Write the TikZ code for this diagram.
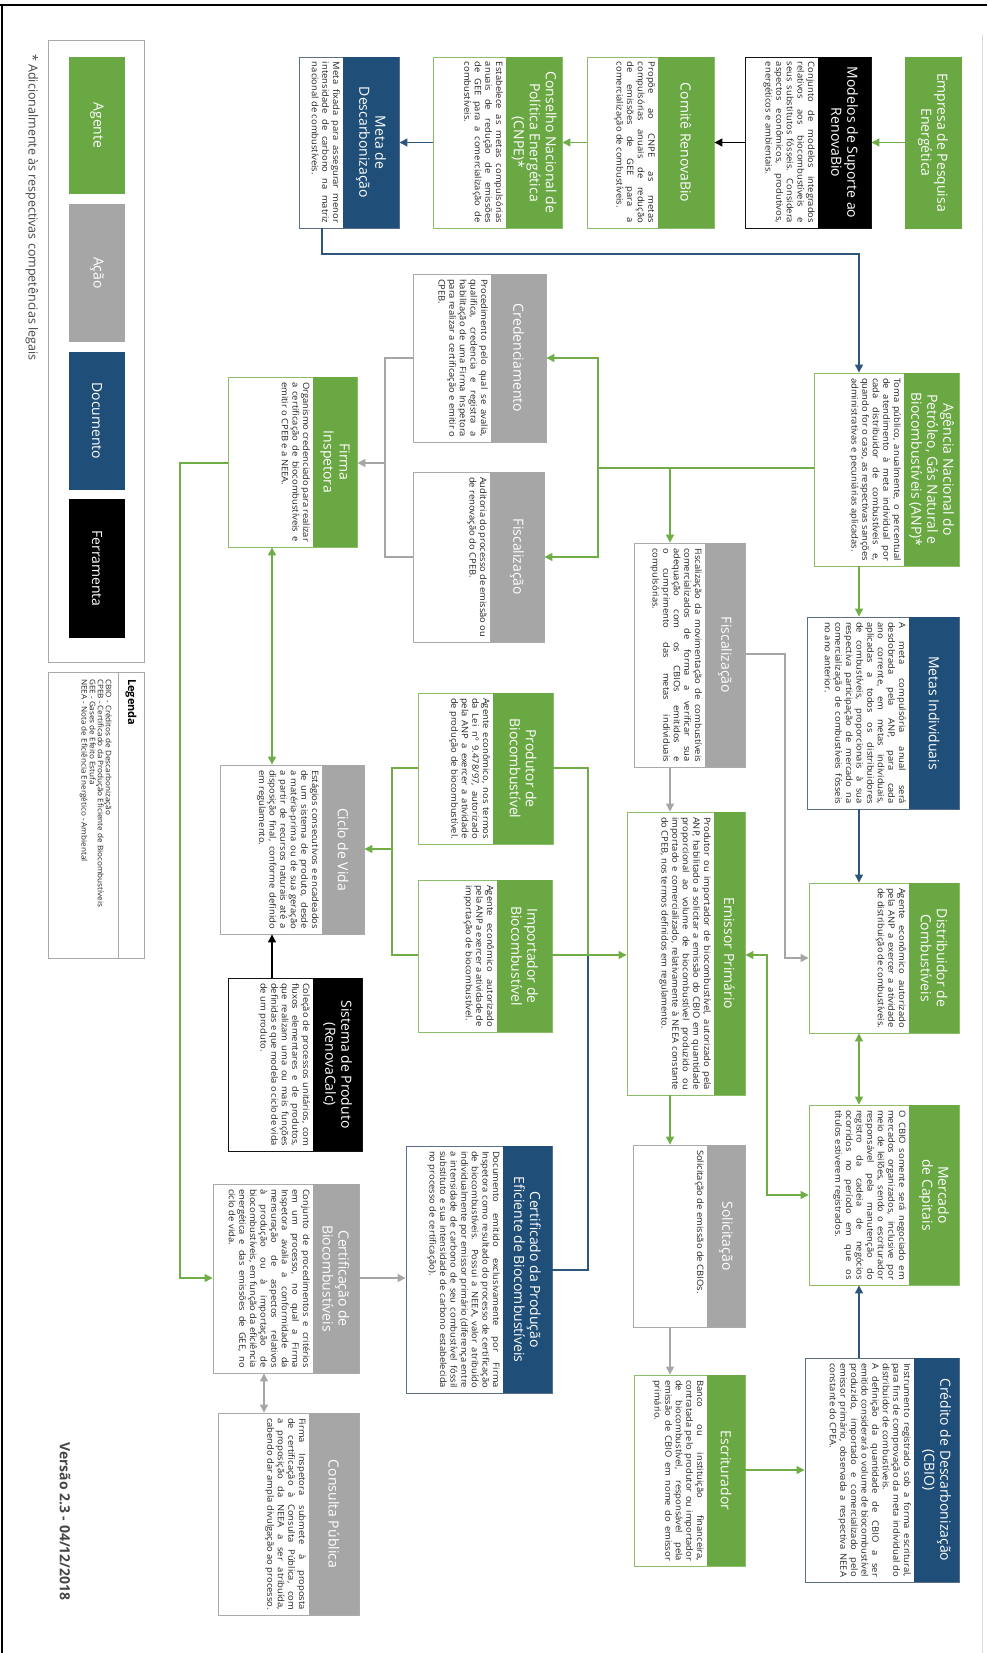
\documentclass[tikz,border=0pt]{standalone}
\usepackage{fontspec}
\setmainfont{Open Sans}
\newfontfamily\bodyfam{Open Sans}[FakeStretch=1.07]
\usetikzlibrary{arrows.meta}
\hyphenpenalty=10000
\exhyphenpenalty=10000
\tolerance=9999
\definecolor{hdG}{RGB}{106,168,67}
\definecolor{bdG}{RGB}{140,190,105}
\definecolor{hdB}{RGB}{31,78,121}
\definecolor{bdB}{RGB}{90,110,135}
\definecolor{hdY}{RGB}{166,166,166}
\definecolor{bdY}{RGB}{170,170,170}
\definecolor{hdK}{RGB}{0,0,0}
\definecolor{bdK}{RGB}{20,20,20}
\definecolor{lnG}{RGB}{112,173,71}
\definecolor{lnB}{RGB}{45,85,125}
\definecolor{lnY}{RGB}{166,166,166}
\definecolor{txtc}{RGB}{35,35,35}
\definecolor{notec}{RGB}{70,70,70}
\tikzset{
  frame/.style={draw, inner sep=0pt, line width=0.9pt},
  hdr/.style={rotate=-90, inner sep=0pt, text=white, align=center,
    font=\fontsize{14}{16}\selectfont},
  bodytxt/.style={rotate=-90, inner sep=0pt, align=justify, text=txtc,
    font=\bodyfam\fontsize{8.8}{10.6}\selectfont},
  con/.style={line width=1.3pt},
  cG/.style={con, draw=lnG},
  cB/.style={con, draw=lnB},
  cY/.style={con, draw=lnY},
  cK/.style={con, draw=black},
  legblock/.style={inner sep=0pt, minimum width=56pt},
  legtxt/.style={rotate=-90, inner sep=0pt, text=white, font=\fontsize{14}{16}\selectfont},
}
\newcommand\mkbox[9]{%
  \pgfmathsetmacro\bxW{#3-#2}\pgfmathsetmacro\bxH{#6-#5}%
  \pgfmathsetmacro\hdW{#3-#4}\pgfmathsetmacro\txW{#6-#5-10}%
  \pgfmathsetmacro\bxCX{(#2+#3)/2}\pgfmathsetmacro\bxCY{(#5+#6)/2}%
  \pgfmathsetmacro\hdX{(#3+#4)/2}\pgfmathsetmacro\txX{#4-3}%
  \node[frame, draw=bd#7, minimum width=\bxW pt, minimum height=\bxH pt] (#1) at (\bxCX,\bxCY) {};
  \node[hdr, fill=hd#7, minimum width=\bxH pt, minimum height=\hdW pt] (#1h) at (\hdX,\bxCY) {#8};
  \node[bodytxt, text width=\txW pt, anchor=north] (#1t) at (\txX,\bxCY) {#9};
}
\begin{document}
\begin{tikzpicture}[x=1pt,y=-1pt,>={Triangle[length=8pt,width=8pt]}]
\useasboundingbox (0,0) rectangle (987,1653);
\fill[white] (0,0) rectangle (987,1653);
% page frame
\draw[line width=2.2pt] (0,5) -- (987,5);
\draw[line width=2.2pt] (2,5) -- (2,1653);
\draw[black!15, line width=0.8pt] (982,35) -- (982,1653);

% top row
\node[frame, draw=hdG, fill=hdG, minimum width=56pt, minimum height=171pt] (empresa) at (933,142.5) {};
\node[hdr] (empresat) at (empresa.center) {Empresa de Pesquisa\\Energética};
\mkbox{modelos}{745}{871}{818}{57}{228}{K}{Modelos de Suporte ao\\RenovaBio}{Conjunto de modelos integrados relativos aos biocombustíveis e seus substitutos fósseis. Considera aspectos econômicos, produtivos, energéticos e ambientais.}
\mkbox{comite}{587}{714}{658}{57}{228}{G}{Comitê RenovaBio}{Propõe ao CNPE as metas compulsórias anuais de redução de emissões de GEE para a comercialização de combustíveis.}
\mkbox{cnpe}{433}{562}{506}{57}{228}{G}{Conselho Nacional de\\Política Energética\\(CNPE)*}{Estabelece as metas compulsórias anuais de redução de emissões de GEE para a comercialização de combustíveis.}
\mkbox{meta}{299}{399}{343}{57}{228}{B}{Meta de\\Descarbonização}{Meta fixada para assegurar menor intensidade de carbono na matriz nacional de combustíveis.}

% right column
\mkbox{anp}{814}{959}{904}{373}{566}{G}{Agência Nacional do\\Petróleo, Gás Natural e\\Biocombustíveis (ANP)*}{Toma público, anualmente, o percentual de atendimento à meta individual por cada distribuidor de combustíveis e, quando for o caso, as respectivas sanções administrativas e pecuniárias aplicadas.}
\mkbox{metas}{807}{959}{909}{617}{809}{B}{Metas Individuais}{A meta compulsória anual será desdobrada pela ANP, para cada ano corrente, em metas individuais, aplicadas a todos os distribuidores de combustíveis, proporcionais à sua respectiva participação de mercado na comercialização de combustíveis fósseis no ano anterior.}
\mkbox{distrib}{809}{959}{909}{883}{1033}{G}{Distribuidor de\\Combustíveis}{Agente econômico autorizado pela ANP a exercer a atividade de distribuição de combustíveis.}
\mkbox{mercado}{809}{959}{909}{1105}{1285}{G}{Mercado\\de Capitais}{O CBIO somente será negociado em mercados organizados, inclusive por meio de leilões, sendo o escriturador responsável pela manutenção do registro da cadeia de negócios ocorridos no período em que os títulos estiverem registrados.}
\mkbox{cbio}{805}{959}{914}{1358}{1582}{B}{Crédito de Descarbonização\\(CBIO)}{Instrumento registrado sob a forma escritural, para fins de comprovação da meta individual do distribuidor de combustíveis.\\A definição da quantidade de CBIO a ser emitido considerará o volume de biocombustível produzido, importado e comercializado pelo emissor primário, observada a respectiva NEEA constante do CPEA.}

% second column
\mkbox{fiscA}{634}{745}{705}{543}{767}{Y}{Fiscalização}{Fiscalização da movimentação de combustíveis comercializados de forma a verificar sua adequação com os CBIOs emitidos e o cumprimento das metas individuais compulsórias.}
\mkbox{emissor}{627}{745}{714}{812}{1095}{G}{Emissor Primário}{Produtor ou importador de biocombustível, autorizado pela ANP, habilitado a solicitar a emissão do CBIO em quantidade proporcional ao volume de biocombustível produzido ou importado e comercializado, relativamente à NEEA constante do CPEB, nos termos definidos em regulamento.}
\mkbox{solic}{633}{745}{707}{1145}{1327}{Y}{Solicitação}{Solicitação de emissão de CBIOs.}
\mkbox{escrit}{634}{745}{707}{1375}{1566}{G}{Escriturador}{Banco ou instituição financeira, contratada pelo produtor ou importador de biocombustível, responsável pela emissão de CBIO em nome do emissor primário.}

% third column
\mkbox{cred}{413}{546}{491}{274}{442}{Y}{Credenciamento}{Procedimento pelo qual se avalia, qualifica, credencia e registra a habilitação de uma Firma Inspetora para realizar a certificação e emitir o CPEB.}
\mkbox{fiscB}{413}{544}{490}{472}{642}{Y}{Fiscalização}{Auditoria do processo de emissão ou de renovação do CPEB.}
\mkbox{produtor}{418}{553}{493}{693}{844}{G}{Produtor de\\Biocombustível}{Agente econômico, nos termos da Lei nº 9.478/97, autorizado pela ANP a exercer a atividade de produção de biocombustível.}
\mkbox{importador}{418}{552}{497}{880}{1032}{G}{Importador de\\Biocombustível}{Agente econômico autorizado pela ANP a exercer a atividade de importação de biocombustível.}
\mkbox{cpeb}{406}{552}{503}{1146}{1393}{B}{Certificado da Produção\\Eficiente de Biocombustíveis}{Documento emitido exclusivamente por Firma Inspetora como resultado do processo de certificação de biocombustíveis. Possui a NEEA, valor atribuído individualmente por emissor primário (diferença entre a intensidade de carbono de seu combustível fóssil substituto e sua intensidade de carbono estabelecida no processo de certificação).}

% fourth column
\mkbox{firma}{228}{357}{313}{377}{547}{G}{Firma\\Inspetora}{Organismo credenciado para realizar a certificação de biocombustíveis e emitir o CPEB e a NEEA.}
\mkbox{ciclo}{220}{364}{322}{765}{934}{Y}{Ciclo de Vida}{Estágios consecutivos e encadeados de um sistema de produto, desde a matéria-prima ou de sua geração a partir de recursos naturais até a disposição final, conforme definido em regulamento.}
\mkbox{sistema}{228}{362}{313}{978}{1151}{K}{Sistema de Produto\\(RenovaCalc)}{Coleção de processos unitários, com fluxos elementares e de produtos, que realizam uma ou mais funções definidas e que modela o ciclo de vida de um produto.}
\mkbox{certif}{213}{359}{313}{1184}{1373}{Y}{Certificação de\\Biocombustíveis}{Conjunto de procedimentos e critérios em um processo, no qual a Firma Inspetora avalia a conformidade da mensuração de aspectos relativos à produção ou à importação de biocombustíveis, em função da eficiência energética e das emissões de GEE, no ciclo de vida.}
\mkbox{consulta}{218}{359}{309}{1413}{1615}{Y}{Consulta Pública}{Firma Inspetora submete à proposta de certificação à Consulta Pública, com a proposição da NEEA a ser atribuída, cabendo dar ampla divulgação ao processo.}

% connectors
\draw[cG,->] (empresa.west) -- (modelos.east);
\draw[cK,->] (modelos.west) -- (comite.east);
\draw[cG,->] (comite.west) -- (cnpe.east);
\draw[cB,->] (cnpe.west) -- (meta.east);
\draw[cB,->] (meta.south -| 322,0) -- (322,254) -- (859,254) -- (anp.north -| 859,0);
\draw[cG] (anp.west |- 0,468) -- (598,468);
\draw[cG,->] (670,468) -- (fiscA.north -| 670,0);
\draw[cG,->] (598,468) -- (598,358) -- (cred.east |- 0,358);
\draw[cG,->] (598,468) -- (598,557) -- (fiscB.east |- 0,557);
\draw[cG,->] (anp.south -| 859,0) -- (metas.north -| 859,0);
\draw[cB,->] (metas.south -| 859,0) -- (distrib.north -| 859,0);
\draw[cY,->] (fiscA.east |- 0,654) -- (785,654) -- (785,958) -- (distrib.west |- 0,958);
\draw[cY,->] (fiscA.south -| 670,0) -- (emissor.north -| 670,0);
\draw[cG,<->] (emissor.east |- 0,955) -- (767,955) -- (767,1195) -- (mercado.west |- 0,1195);
\draw[cG,<->] (distrib.south -| 859,0) -- (mercado.north -| 859,0);
\draw[cG,->] (emissor.south -| 670,0) -- (solic.north -| 670,0);
\draw[cY,->] (solic.south -| 670,0) -- (escrit.north -| 670,0);
\draw[cG,->] (escrit.east |- 0,1470) -- (cbio.west |- 0,1470);
\draw[cB,->] (cbio.north -| 859,0) -- (mercado.south -| 859,0);
\draw[cY] (cred.west |- 0,358) -- (385,358) -- (385,557) -- (fiscB.west |- 0,557);
\draw[cY,->] (385,463) -- (firma.east |- 0,463);
\draw[cG,<->] (firma.south -| 272,0) -- (ciclo.north -| 272,0);
\draw[cG,->] (firma.west |- 0,463) -- (180,463) -- (180,1278) -- (certif.west |- 0,1278);
\draw[cK,->] (sistema.north -| 272,0) -- (ciclo.south -| 272,0);
\draw[cG] (produtor.west |- 0,768) -- (392,768) -- (392,955) -- (importador.west |- 0,955);
\draw[cG,->] (392,849) -- (ciclo.east |- 0,849);
\draw[cG] (produtor.east |- 0,768) -- (588,768) -- (588,955);
\draw[cB] (cpeb.east |- 0,1270) -- (588,1270) -- (588,955);
\draw[cG,->] (importador.east |- 0,955) -- (emissor.west |- 0,955);
\draw[cY,->] (certif.east |- 0,1278) -- (cpeb.west |- 0,1278);
\draw[cY,<->] (certif.south -| 264,0) -- (consulta.north -| 264,0);

% legend of colours
\node[frame, draw=bdY, minimum width=96pt, minimum height=622pt] (legbox) at (96,351) {};
\node[legblock, fill=hdG, minimum height=137pt] (lagente) at (97,125.5) {};
\node[legtxt] (lagentet) at (lagente.center) {Agente};
\node[legblock, fill=hdY, minimum height=138pt] (lacao) at (97,273) {};
\node[legtxt] (lacaot) at (lacao.center) {Ação};
\node[legblock, fill=hdB, minimum height=138pt] (ldoc) at (97,421) {};
\node[legtxt] (ldoct) at (ldoc.center) {Documento};
\node[legblock, fill=hdK, minimum height=139pt] (lferr) at (97,568.5) {};
\node[legtxt] (lferrt) at (lferr.center) {Ferramenta};

% legenda
\node[frame, draw=bdY, minimum width=96pt, minimum height=286pt] (legenda) at (96,815) {};
\draw[bdY, line width=0.9pt] (legenda.north -| 118,0) -- (legenda.south -| 118,0);
\node[rotate=-90, anchor=west, inner sep=0pt, font=\bfseries\fontsize{11}{13}\selectfont] (legendat) at (131,679) {Legenda};
\node[rotate=-90, anchor=north west, inner sep=0pt, align=left, text=txtc, font=\bodyfam\fontsize{7.6}{8.1}\selectfont] (legdefs) at (112,679) {CBIO - Créditos de Descarbonização\\CPEB - Certificado da Produção Eficiente de Biocombustíveis\\GEE - Gases de Efeito Estufa\\NEEA - Nota de Eficiência Energético - Ambiental};

% notes
\node[rotate=-90, anchor=west, inner sep=0pt, text=notec, font=\fontsize{12.5}{14}\selectfont] (nota) at (32,54) {* Adicionalmente às respectivas competências legais};
\node[rotate=-90, anchor=west, inner sep=0pt, text=notec, font=\bfseries\fontsize{14}{16}\selectfont] (versao) at (65,1442) {Versão 2.3 - 04/12/2018};
\end{tikzpicture}
\end{document}
